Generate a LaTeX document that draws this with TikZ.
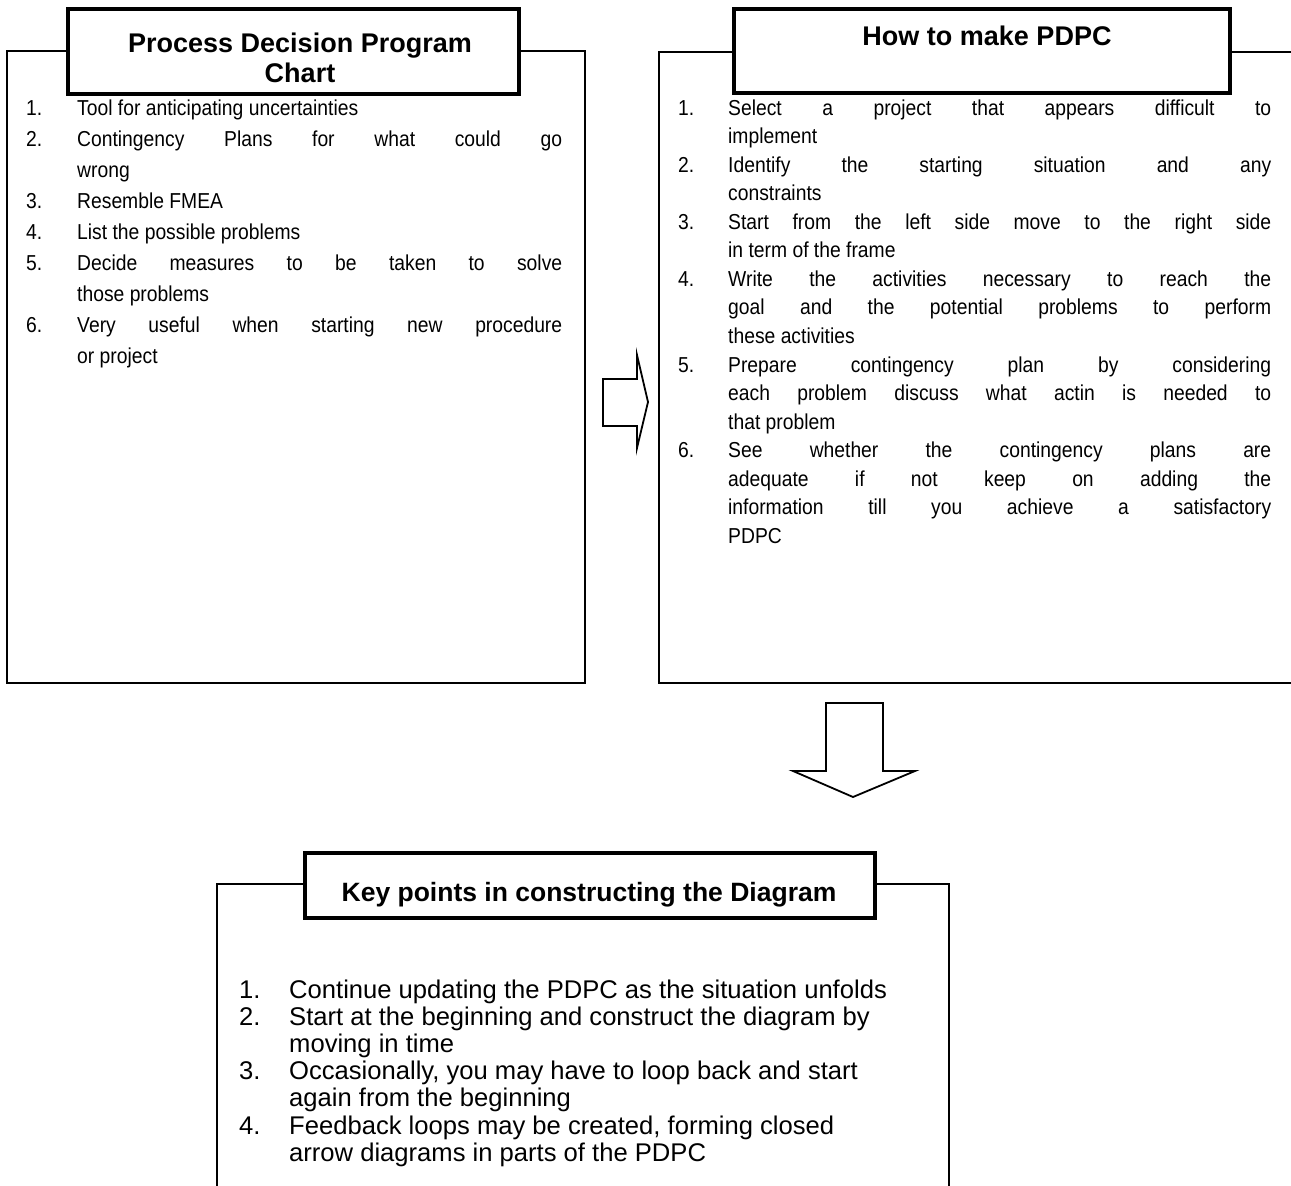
\documentclass[tikz,border=0pt]{standalone}
\usepackage{fontspec}
\setmainfont{Liberation Sans}
% one numbered entry with a hanging indent of #1
\newcommand\pitem[2]{\par\hangindent=#1\hangafter=1\noindent\makebox[#1][l]{#2}}
\begin{document}
\begin{tikzpicture}[x=1pt,y=-1pt,
  frame/.style={draw,line width=1.8pt,line join=miter},
  titlebox/.style={draw,line width=3.4pt,fill=white,inner sep=0pt,outer sep=0pt},
  titletext/.style={anchor=base,inner sep=0pt,font=\bfseries\fontsize{27}{30}\selectfont},
  listbox/.style={anchor=base west,inner sep=0pt},
  blockarrow/.style={draw,line width=1.8pt,fill=white,line join=miter}]
\useasboundingbox (0,0) rectangle (1291,1186);

% ---- left panel ----
\node[frame,minimum width=578pt,minimum height=632pt,inner sep=0pt,outer sep=0pt] (lframe) at (296,367) {};
\node[titlebox,minimum width=451pt,minimum height=85pt] (lhead) at (293.5,51.5) {};
\node[titletext] (lhead1) at (300,52.5) {Process Decision Program};
\node[titletext] (lhead2) at (300,82) {Chart};
\node[listbox] (llist) at (26,115) {\scalebox{1}[1.12]{\begin{minipage}[t]{536pt}\fontsize{19.3}{27.7}\selectfont
  \tolerance=10000\hbadness=10000
  \pitem{51pt}{1.}Tool for anticipating uncertainties
  \pitem{51pt}{2.}Contingency Plans for what could go\linebreak wrong
  \pitem{51pt}{3.}Resemble FMEA
  \pitem{51pt}{4.}List the possible problems
  \pitem{51pt}{5.}Decide measures to be taken to solve\linebreak those problems
  \pitem{51pt}{6.}Very useful when starting new procedure\linebreak or project
\end{minipage}}};

% ---- right panel (runs off the right edge) ----
\coordinate (rf-tr) at (1291,52);
\coordinate (rf-tl) at (659,52);
\coordinate (rf-bl) at (659,683);
\coordinate (rf-br) at (1291,683);
\draw[frame] (rf-tr) -- (rf-tl) -- (rf-bl) -- (rf-br);
\node[titlebox,minimum width=496pt,minimum height=84pt] (rhead) at (982,51) {};
\node[titletext] (rhead1) at (987,45) {How to make PDPC};
\node[listbox] (rlist) at (678,115) {\scalebox{1}[1.12]{\begin{minipage}[t]{593pt}\fontsize{19.3}{25.5}\selectfont
  \tolerance=10000\hbadness=10000
  \pitem{50pt}{1.}Select a project that appears difficult to\linebreak implement
  \pitem{50pt}{2.}Identify the starting situation and any\linebreak constraints
  \pitem{50pt}{3.}Start from the left side move to the right side\linebreak in term of the frame
  \pitem{50pt}{4.}Write the activities necessary to reach the\linebreak goal and the potential problems to perform\linebreak these activities
  \pitem{50pt}{5.}Prepare contingency plan by considering\linebreak each problem discuss what actin is needed to\linebreak that problem
  \pitem{50pt}{6.}See whether the contingency plans are\linebreak adequate if not keep on adding the\linebreak information till you achieve a satisfactory\linebreak PDPC
\end{minipage}}};

% ---- bottom panel (runs off the bottom edge) ----
\coordinate (bf-bl) at (217,1186);
\coordinate (bf-tl) at (217,884);
\coordinate (bf-tr) at (949,884);
\coordinate (bf-br) at (949,1186);
\draw[frame] (bf-bl) -- (bf-tl) -- (bf-tr) -- (bf-br);
\node[titlebox,minimum width=570pt,minimum height=65pt] (bhead) at (590,885.5) {};
\node[titletext,font=\bfseries\fontsize{26.5}{30}\selectfont] (bhead1) at (589,901) {Key points in constructing the Diagram};
\node[listbox] (blist) at (239,998) {\begin{minipage}[t]{700pt}\fontsize{25.6}{27.2}\selectfont\raggedright
  \pitem{50pt}{1.}Continue updating the PDPC as the situation unfolds
  \pitem{50pt}{2.}Start at the beginning and construct the diagram by\newline moving in time
  \pitem{50pt}{3.}Occasionally, you may have to loop back and start\newline again from the beginning
  \pitem{50pt}{4.}Feedback loops may be created, forming closed\newline arrow diagrams in parts of the PDPC
\end{minipage}};

% ---- block arrows between the panels ----
\draw[blockarrow] (603,379) -- (637,379) -- (637,355) -- (648,402) -- (637,448) -- (637,426) -- (603,426) -- cycle;
\draw[blockarrow] (826,703) -- (883,703) -- (883,771) -- (915,771) -- (853,797) -- (793,771) -- (826,771) -- cycle;
\end{tikzpicture}
\end{document}
